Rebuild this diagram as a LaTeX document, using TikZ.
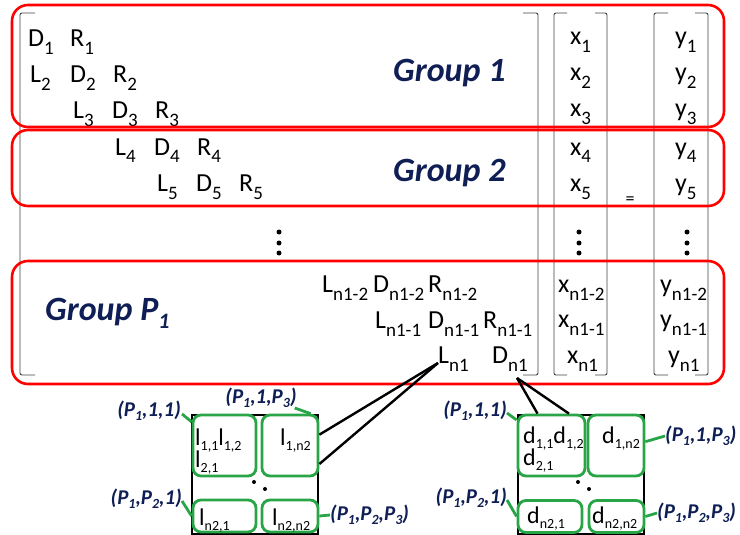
\documentclass[tikz,border=0pt]{standalone}
\usepackage{fontspec}
\setmainfont{Carlito}
\usetikzlibrary{calc}
\definecolor{navy}{RGB}{15,30,85}
\definecolor{gr}{RGB}{40,165,70}
\newcommand{\msub}[1]{\raisebox{-8pt}{\fontsize{19}{19}\selectfont #1}}
\newcommand{\bsub}[1]{\raisebox{-5pt}{\fontsize{14}{14}\selectfont #1}}
\newcommand{\lsub}[1]{\raisebox{-4pt}{\fontsize{14}{14}\selectfont #1}}
\begin{document}
\begin{tikzpicture}[x=1pt,y=-1pt,
 ent/.style={anchor=base west, inner sep=0pt, font=\fontsize{26}{30}\selectfont},
 grp/.style={anchor=base west, inner sep=0pt, font=\fontsize{34}{40}\selectfont\bfseries\itshape, text=navy},
 redbox/.style={draw=red, line width=2.6pt, rounded corners=16pt},
 brk/.style={draw=black!75, line width=0.9pt, rounded corners=2pt},
 grect/.style={draw=gr, line width=2.8pt, rounded corners=8pt, inner sep=0pt},
 blksq/.style={draw=black, line width=2.4pt, inner sep=0pt},
 lab/.style={inner sep=0pt, font=\fontsize{21}{24}\selectfont\bfseries\itshape, text=navy},
 glink/.style={draw=gr, line width=2.8pt},
 blink/.style={draw=black, line width=2.4pt},
 bent/.style={anchor=base west, inner sep=0pt, font=\fontsize{24}{28}\selectfont},
 bigdot/.style={circle, fill=black, inner sep=0pt, minimum size=5pt},
 smdot/.style={circle, fill=black, inner sep=0pt, minimum size=4pt}
]
\useasboundingbox (0,0) rectangle (740,535);

% brackets
\draw[brk] (35,13) -- (20,13) -- (20,375) -- (35,375);
\draw[brk] (523,13) -- (538,13) -- (538,375) -- (523,375);
\draw[brk] (567,13) -- (554,13) -- (554,375) -- (567,375);
\draw[brk] (595,13) -- (607,13) -- (607,375) -- (595,375);
\draw[brk] (668,13) -- (654,13) -- (654,375) -- (668,375);
\draw[brk] (695,13) -- (708,13) -- (708,375) -- (695,375);

% matrix entries
\node[ent] (D1) at (28,47) {D\msub{1}};
\node[ent] (R1) at (70,47) {R\msub{1}};
\node[ent] (L2) at (30,83) {L\msub{2}};
\node[ent] (D2) at (70,83) {D\msub{2}};
\node[ent] (R2) at (113,83) {R\msub{2}};
\node[ent] (L3) at (73,119) {L\msub{3}};
\node[ent] (D3) at (112,119) {D\msub{3}};
\node[ent] (R3) at (155,119) {R\msub{3}};
\node[ent] (L4) at (115,155) {L\msub{4}};
\node[ent] (D4) at (154,155) {D\msub{4}};
\node[ent] (R4) at (197,155) {R\msub{4}};
\node[ent] (L5) at (157,191) {L\msub{5}};
\node[ent] (D5) at (196,191) {D\msub{5}};
\node[ent] (R5) at (239,191) {R\msub{5}};
\node[ent] (Lm2) at (322,292) {L\msub{n1-2}};
\node[ent] (Dm2) at (373,292) {D\msub{n1-2}};
\node[ent] (Rm2) at (428,292) {R\msub{n1-2}};
\node[ent] (Lm1) at (375,328) {L\msub{n1-1}};
\node[ent] (Dm1) at (428,328) {D\msub{n1-1}};
\node[ent] (Rm1) at (483,328) {R\msub{n1-1}};
\node[ent] (Ln1) at (438,363) {L\msub{n1}};
\node[ent] (Dn1) at (492,363) {D\msub{n1}};

% vectors
\node[ent] (x1) at (570,45) {x\msub{1}};
\node[ent] (x2) at (570,81) {x\msub{2}};
\node[ent] (x3) at (570,117) {x\msub{3}};
\node[ent] (x4) at (570,155) {x\msub{4}};
\node[ent] (x5) at (570,191) {x\msub{5}};
\node[ent] (xm2) at (558,292) {x\msub{n1-2}};
\node[ent] (xm1) at (558,327) {x\msub{n1-1}};
\node[ent] (xn1) at (567,363) {x\msub{n1}};
\node[ent] (y1) at (675,45) {y\msub{1}};
\node[ent] (y2) at (675,81) {y\msub{2}};
\node[ent] (y3) at (675,117) {y\msub{3}};
\node[ent] (y4) at (675,155) {y\msub{4}};
\node[ent] (y5) at (675,191) {y\msub{5}};
\node[ent] (ym2) at (660,292) {y\msub{n1-2}};
\node[ent] (ym1) at (660,327) {y\msub{n1-1}};
\node[ent] (yn1) at (668,363) {y\msub{n1}};
\node[inner sep=0pt, font=\fontsize{18}{18}\selectfont] (eq) at (630,201) {=};

% vertical dots
\foreach \cx/\nm in {279/m, 579/x, 687/y}{
  \node[bigdot] (\nm dA) at (\cx,232) {};
  \node[bigdot] (\nm dB) at (\cx,243) {};
  \node[bigdot] (\nm dC) at (\cx,253) {};
}

% group labels
\node[grp] (g1) at (393,82) {Group 1};
\node[grp] (g2) at (393,182) {Group 2};
\node[grp] (gp) at (45,320) {Group P\raisebox{-8pt}{\fontsize{22}{22}\selectfont 1}};

% red boxes
\draw[redbox] (12,5) rectangle (724,127);
\draw[redbox] (12,130) rectangle (724,206);
\draw[redbox] (12,261) rectangle (724,384);

% left block
\node[blksq, minimum width=126pt, minimum height=119pt] (lsq) at (255,474.5) {};
\node[grect, minimum width=63pt, minimum height=61pt] (ltl) at (224.5,445.5) {};
\node[grect, minimum width=56pt, minimum height=61pt] (ltr) at (290,445.5) {};
\node[grect, minimum width=63pt, minimum height=32pt] (lbl) at (224.5,516) {};
\node[grect, minimum width=56pt, minimum height=32pt] (lbr) at (290,516) {};
\node[bent] (l11) at (195,445) {l\bsub{1,1}l\bsub{1,2}};
\node[bent] (l21) at (195,467) {l\bsub{2,1}};
\node[bent] (l1n) at (280,445) {l\bsub{1,n2}};
\node[bent] (ln1) at (199,525) {l\bsub{n2,1}};
\node[bent] (lnn) at (272,525) {l\bsub{n2,n2}};
\node[smdot] (ld1) at (254,482) {};
\node[smdot] (ld2) at (265,489) {};

% right block
\node[blksq, minimum width=126pt, minimum height=119pt] (rsq) at (581,474.5) {};
\node[grect, minimum width=67pt, minimum height=61pt] (rtl) at (551.5,445.5) {};
\node[grect, minimum width=56pt, minimum height=61pt] (rtr) at (616,445.5) {};
\node[grect, minimum width=64pt, minimum height=32pt] (rbl) at (550,516.5) {};
\node[grect, minimum width=55pt, minimum height=32pt] (rbr) at (616.5,516.5) {};
\node[bent] (d11) at (523,443) {d\bsub{1,1}d\bsub{1,2}};
\node[bent] (d21) at (523,465) {d\bsub{2,1}};
\node[bent] (d1n) at (602,443) {d\bsub{1,n2}};
\node[bent] (dn1) at (527,523) {d\bsub{n2,1}};
\node[bent] (dnn) at (592,523) {d\bsub{n2,n2}};
\node[smdot] (rd1) at (578,482) {};
\node[smdot] (rd2) at (589,489) {};

% labels
\node[lab, anchor=east] (la1) at (181,411) {(P\lsub{1},1,1)};
\node[lab] (la2) at (261,398) {(P\lsub{1},1,P\lsub{3})};
\node[lab, anchor=east] (la3) at (182,499) {(P\lsub{1},P\lsub{2},1)};
\node[lab, anchor=west] (la4) at (330,515) {(P\lsub{1},P\lsub{2},P\lsub{3})};
\node[lab, anchor=east] (ra1) at (507,411) {(P\lsub{1},1,1)};
\node[lab, anchor=west] (ra2) at (665,436) {(P\lsub{1},1,P\lsub{3})};
\node[lab, anchor=east] (ra3) at (507,498) {(P\lsub{1},P\lsub{2},1)};
\node[lab, anchor=west] (ra4) at (657,513) {(P\lsub{1},P\lsub{2},P\lsub{3})};

% green links
\draw[glink] ($(la1.east)+(1,3)$) -- ($(ltl.north west)!0.13!(ltl.south west)$);
\draw[glink] ($(la2.south east)+(-2,0)$) -- ($(ltr.north west)!0.85!(ltr.north east)$);
\draw[glink] ($(la3.east)+(0,2)$) -- (lbl.west);
\draw[glink] (lbr.east) -- (la4.west);
\draw[glink] ($(ra1.east)+(0,2)$) -- ($(rtl.north west)!0.1!(rtl.south west)$);
\draw[glink] ($(rtr.north east)!0.44!(rtr.south east)$) -- (ra2.west);
\draw[glink] ($(ra3.east)+(0,2)$) -- (rbl.west);
\draw[glink] (rbr.east) -- (ra4.west);

% black links
\draw[blink] (Ln1.base west) -- ($(ltr.north east)!0.33!(ltr.south east)$);
\draw[blink] (Ln1.base west) -- ($(ltr.north east)!0.79!(ltr.south east)$);
\draw[blink] ($(Dn1.base west)+(25,15)$) -- ($(rtl.north west)!0.3!(rtl.north east)$);
\draw[blink] ($(Dn1.base west)+(25,15)$) -- ($(rtl.north west)!0.75!(rtl.north east)$);
\end{tikzpicture}
\end{document}
